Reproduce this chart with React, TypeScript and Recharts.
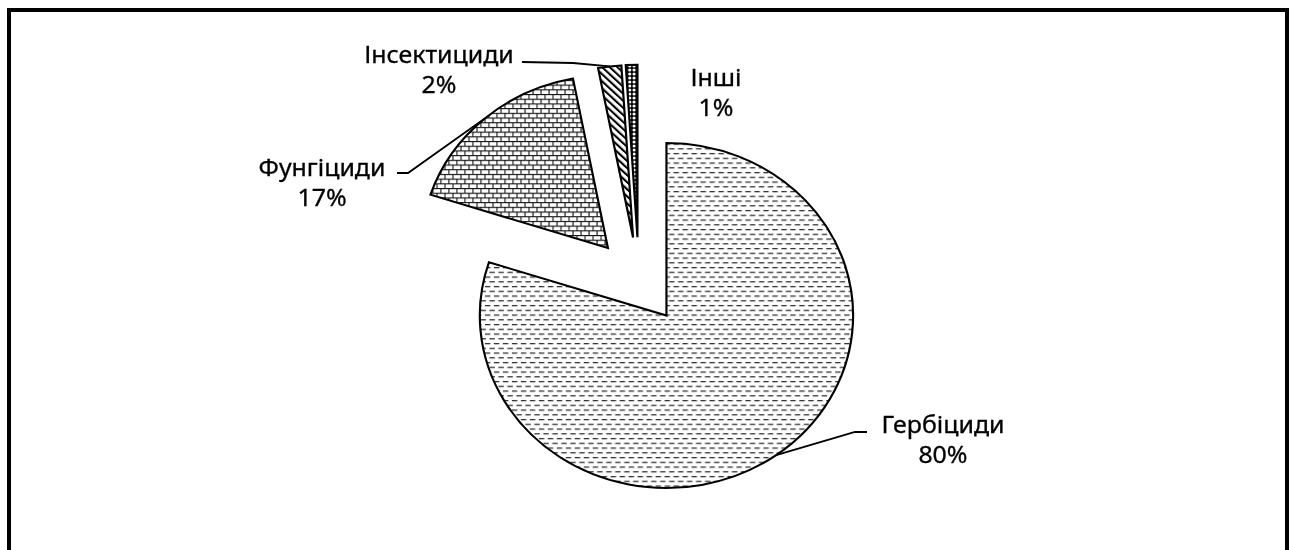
import React from 'react';
import { PieChart, Pie, Sector } from 'recharts';

const CATEGORIES = ['Гербіциди', 'Фунгіциди', 'Інсектициди', 'Інші'];
const VALUES = [80, 17, 2, 1];
const PATTERN_IDS = ['pat-herb', 'pat-fung', 'pat-ins', 'pat-other'];

const data = CATEGORIES.map((name, i) => ({ name, value: VALUES[i] }));

// layout (style) constants
const STRETCH = 1.082;
const CHART_W = 1193;
const CHART_H = 550;
const EXPLODE = 43.3;
const FONT = '"Noto Sans", sans-serif';
const FONT_SIZE = 23;
const LINE_GAP = 30;
const LABEL_LAYOUT: { x: number; y: number; elbow?: [number, number]; end?: [number, number] }[] = [
  { x: 871.5, y: 433, elbow: [790.2, 432], end: [801.3, 432] },
  { x: 297.6, y: 176, elbow: [377.1, 173], end: [366.9, 173] },
  { x: 405.7, y: 63, elbow: [529.6, 63], end: [482.4, 62] },
  { x: 661.7, y: 86 },
];

const renderSlice = (props: any) => {
  const { cx, cy, midAngle, startAngle, endAngle, outerRadius, index, percent } = props;
  const rad = (-midAngle * Math.PI) / 180;
  const ox = cx + EXPLODE * Math.cos(rad);
  const oy = cy + EXPLODE * Math.sin(rad);
  const ax = ox + outerRadius * Math.cos(rad);
  const ay = oy + outerRadius * Math.sin(rad);
  const lay = LABEL_LAYOUT[index];
  return (
    <g key={`slice-${index}`}>
      <Sector
        cx={ox}
        cy={oy}
        innerRadius={0}
        outerRadius={outerRadius}
        startAngle={startAngle}
        endAngle={endAngle}
        fill={`url(#${PATTERN_IDS[index]})`}
        stroke="#000"
        strokeWidth={2}
      />
      {lay.elbow && lay.end && (
        <polyline
          points={`${ax},${ay} ${lay.elbow[0]},${lay.elbow[1]} ${lay.end[0]},${lay.end[1]}`}
          fill="none"
          stroke="#000"
          strokeWidth={1.8}
        />
      )}
      <text x={lay.x} y={lay.y} textAnchor="middle" fontFamily={FONT} fontSize={FONT_SIZE} fill="#000" stroke="#000" strokeWidth={0.3}>
        {CATEGORIES[index]}
      </text>
      <text x={lay.x} y={lay.y + LINE_GAP} textAnchor="middle" fontFamily={FONT} fontSize={FONT_SIZE} fill="#000" stroke="#000" strokeWidth={0.3}>
        {`${Math.round(percent * 100)}%`}
      </text>
    </g>
  );
};

export default function App() {
  return (
    <div>
      <svg width={0} height={0} style={{ position: 'absolute' }}>
        <defs>
          <pattern id="pat-herb" patternUnits="userSpaceOnUse" width={8.3} height={9.5}>
            <rect width={8.3} height={9.5} fill="#fff" />
            <rect x={0} y={1} width={5} height={1.2} fill="#222" />
            <rect x={4.15} y={5.75} width={5} height={1.2} fill="#222" />
            <rect x={-4.15} y={5.75} width={5} height={1.2} fill="#222" />
          </pattern>
          <pattern id="pat-fung" patternUnits="userSpaceOnUse" width={7.4} height={9.4}>
            <rect width={7.4} height={9.4} fill="#fff" />
            <rect x={0} y={0} width={7.4} height={1.1} fill="#111" />
            <rect x={0} y={4.7} width={7.4} height={1.1} fill="#111" />
            <rect x={0} y={0} width={1} height={4.7} fill="#111" />
            <rect x={3.7} y={4.7} width={1} height={4.7} fill="#111" />
          </pattern>
          <pattern id="pat-ins" patternUnits="userSpaceOnUse" width={5} height={5} patternTransform="rotate(-45)">
            <rect width={5} height={5} fill="#fff" />
            <rect x={0} y={0} width={2} height={5} fill="#000" />
          </pattern>
          <pattern id="pat-other" patternUnits="userSpaceOnUse" width={4} height={4}>
            <rect width={4} height={4} fill="#000" />
            <circle cx={2} cy={2} r={1.5} fill="#fff" />
          </pattern>
        </defs>
      </svg>
      <div
        style={{
          position: 'fixed',
          left: 7,
          top: 8,
          width: 1282,
          height: 620,
          border: '4px solid #000',
          borderBottom: 'none',
          boxSizing: 'border-box',
        }}
      />
      <div
        style={{
          position: 'fixed',
          left: 0,
          top: 0,
          width: CHART_W,
          height: CHART_H,
          transform: `scaleX(${STRETCH})`,
          transformOrigin: '0 0',
        }}
      >
        <PieChart width={CHART_W} height={CHART_H} margin={{ top: 0, right: 0, bottom: 0, left: 0 }}>
          <Pie
            data={data}
            dataKey="value"
            nameKey="name"
            cx={590.5}
            cy={280.5}
            innerRadius={0}
            outerRadius={172.5}
            startAngle={90}
            endAngle={-270}
            fill="transparent"
            stroke="none"
            label={renderSlice}
            labelLine={false}
            isAnimationActive={false}
          />
        </PieChart>
      </div>
    </div>
  );
}
